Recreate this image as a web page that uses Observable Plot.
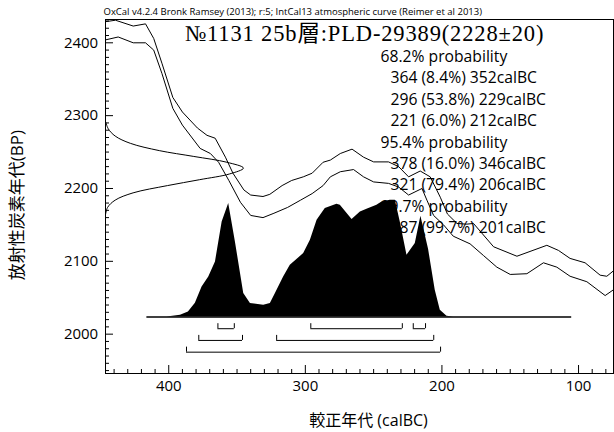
<!DOCTYPE html>
<html><head><meta charset="utf-8">
<script src="https://cdn.jsdelivr.net/npm/d3@7"></script>
<script src="https://cdn.jsdelivr.net/npm/@observablehq/plot@0.6"></script>
<style>
body{margin:0;background:#fff;}
#chart svg{display:block;}
</style></head><body><div id="chart"></div>
<script>
// IntCal13 calibration curve, upper and lower 1-sigma bounds (calBC, BP)
const curveUpperYears = [446.3,439,426,417,411,405,397,390,379,372,366,358.5,353,345,340,331,326,317,310,301.5,295,287,281.7,274.4,265.8,257.4,250,239.1,231.7,224.4,215.9,208.6,201.2,196,189,182,176.9,162.2,145.1,123.2,114.7,106.2,95.2,84.2,79.3,74.4];
const curveUpperBP    = [2429,2431,2423,2426,2406,2372,2325,2305,2283,2273,2269,2243,2221,2198,2191,2189,2192,2204,2211,2216,2221,2236,2239,2248,2254,2243,2236.5,2236.5,2230,2216,2224,2216,2188,2165,2152,2151,2152,2120,2107,2122,2115,2104,2098,2081,2079.5,2087];
const curveLowerYears = [446.3,437,426,417,411,405,397,390,377,369.5,363.5,356,347.5,340,331,323,313,303.5,295,287,281.7,274.4,264.7,257.4,250,239.1,231.7,224.4,214.6,211,206.1,198.8,191.7,179.4,169.6,159.8,150,137.8,125.7,115.9,106.2,93.9,80.5,74.4];
const curveLowerBP    = [2404,2408,2400,2400,2390,2358,2310,2287,2255,2248,2236,2211,2181,2163,2160,2166,2174,2184,2193,2204,2216,2223,2226,2216,2209,2207,2202,2191,2200,2184,2163,2150,2134.5,2124,2108,2092,2082,2083,2098,2092,2079.5,2072,2053,2061];

// Radiocarbon measurement distribution (BP, relative density)
const measBP      = [2292,2282,2272,2262,2252,2244,2236,2228,2220,2212,2204,2194,2184,2174,2164];
const measDensity = [0,0.02,0.07,0.18,0.39,0.64,0.88,1.0,0.9,0.68,0.45,0.2,0.07,0.015,0];

// Calibrated date distribution (calBC, relative probability)
const postYears = [416,401.2,391.4,385.6,380.5,375.6,370.7,365.8,360.9,356.1,351.2,345.1,340.2,330.5,325.6,321.9,315.9,311,301.2,296.3,291.4,285.4,276.9,274.4,265.8,259.7,254.9,247.6,243.9,237.8,234.1,230.5,225.6,219.5,215.4,209.8,204.9,201.2,196.3,191.5,105];
const postProb  = [0,0,0.015,0.043,0.117,0.257,0.343,0.471,0.814,0.972,0.643,0.2,0.115,0.1,0.115,0.2,0.343,0.443,0.543,0.657,0.829,0.929,0.966,0.957,0.835,0.9,0.923,0.957,0.985,1.0,1.0,0.814,0.529,0.629,0.863,0.58,0.229,0.057,0.006,0,0];

// Ranges
const levels    = ["68.2%","95.4%","99.7%"];
const rangeFrom = [[364,296,221],[378,321],[387]];
const rangeTo   = [[352,229,212],[346,206],[201]];
const rangePct  = [[8.4,53.8,6.0],[16.0,79.4],[99.7]];

const xTicks = [400,300,200,100];
const yTicks = [2000,2100,2200,2300,2400];
const title   = "№1131 25b層:PLD-29389(2228±20)";
const caption = "OxCal v4.2.4 Bronk Ramsey (2013); r:5; IntCal13 atmospheric curve (Reimer et al 2013)";
const xLabel  = "較正年代 (calBC)";
const yLabel  = "放射性炭素年代(BP)";

// ---- layout ----
const W = 614, H = 432, mL = 105, mR = 1, mT = 19, mB = 59;
const fw = W - mL - mR, fh = H - mT - mB;
const xDomain = [446.3, 74.4], yDomain = [1946, 2432];
const postBase = 2023.6, postScale = 160.3, measWidth = 101;
const rowGap = 16.1, bracketTick = 6.9;

const upper = curveUpperYears.map((x,i)=>({x, y: curveUpperBP[i]}));
const lower = curveLowerYears.map((x,i)=>({x, y: curveLowerBP[i]}));
const meas  = measBP.map((y,i)=>({y, x: xDomain[0] - measDensity[i]*measWidth}));
const post  = postYears.map((x,i)=>({x, y1: postBase, y2: postBase + postProb[i]*postScale}));

const brackets = [];
rangeFrom.forEach((arr,k)=>arr.forEach((f,j)=>brackets.push({from:f, to:rangeTo[k][j], y: postBase - rowGap*(k+1)})));

const probLines = [];
levels.forEach((lv,k)=>{
  probLines.push({text:`${lv} probability`, indent:0});
  rangeFrom[k].forEach((f,j)=>probLines.push({text:`${f} (${rangePct[k][j].toFixed(1)}%) ${rangeTo[k][j]}calBC`, indent:1}));
});

const yMinor = d3.range(1950, 2431, 10).filter(d=>d%100);
const xMinor = d3.range(80, 446, 10).filter(d=>d%100);

const textMarks = probLines.map((l,i)=>Plot.text([l.text], {
  frameAnchor:"top-left", dx: 275 + l.indent*10, dy: 42.5 + i*21.4,
  lineAnchor:"bottom", fontSize:15.7
}));

const chart = Plot.plot({
  width: W, height: H,
  marginLeft: mL, marginRight: mR, marginTop: mT, marginBottom: mB,
  x: {domain: xDomain, label: null},
  y: {domain: yDomain, label: null},
  style: {fontFamily: "'Open Sans','Noto Sans CJK JP',sans-serif", background: "white", color: "black"},
  marks: [
    Plot.areaY(post, {x:"x", y1:"y1", y2:"y2", fill:"black"}),
    Plot.ruleY([postBase], {x1: d3.max(postYears), x2: d3.min(postYears), stroke:"black", strokeWidth:1.5}),
    Plot.line(upper, {x:"x", y:"y", stroke:"black", strokeWidth:1, clip:true}),
    Plot.line(lower, {x:"x", y:"y", stroke:"black", strokeWidth:1, clip:true}),
    Plot.line(meas, {x:"x", y:"y", stroke:"black", strokeWidth:1, curve:"catmull-rom", clip:true}),
    Plot.ruleY(brackets, {y:"y", x1:"from", x2:"to", stroke:"black", strokeWidth:1}),
    Plot.ruleX(brackets, {x:"from", y1:"y", y2: d=>d.y + bracketTick, stroke:"black", strokeWidth:1}),
    Plot.ruleX(brackets, {x:"to", y1:"y", y2: d=>d.y + bracketTick, stroke:"black", strokeWidth:1}),
    // ticks (inward)
    Plot.ruleY(yMinor, {y:d=>d, insetRight: fw - 4, stroke:"black"}),
    Plot.ruleY(yTicks, {y:d=>d, insetRight: fw - 8, stroke:"black"}),
    Plot.ruleX(xMinor, {x:d=>d, insetTop: fh - 4, stroke:"black"}),
    Plot.ruleX(xTicks, {x:d=>d, insetTop: fh - 8, stroke:"black"}),
    Plot.axisY(yTicks, {tickSize:0, tickPadding:7.3, fontSize:15, tickFormat:d=>`${d}`, label:null}),
    Plot.axisX(xTicks, {tickSize:0, tickPadding:7, fontSize:15, tickFormat:d=>`${d}`, label:null}),
    Plot.frame({stroke:"black"}),
    Plot.text([caption], {frameAnchor:"top-left", dx:-2, dy:-5, lineAnchor:"bottom", fontSize:9.5}),
    Plot.text([title], {frameAnchor:"top", dx:5, dy:21.5, lineAnchor:"bottom", fontSize:22.5,
      fontFamily:"'Liberation Serif','Noto Sans CJK JP',serif"}),
    Plot.text([xLabel], {frameAnchor:"bottom", dx:9, dy:47.7, lineAnchor:"middle", fontSize:16}),
    Plot.text([yLabel], {frameAnchor:"left", dx:-88, dy:8.7, rotate:-90, textAnchor:"middle", lineAnchor:"middle", fontSize:17}),
    ...textMarks
  ]
});
d3.select(chart).selectAll("text").filter(function(){return this.textContent===title;}).style("letter-spacing","0.85px");
document.getElementById("chart").appendChild(chart);
</script>
</body></html>
